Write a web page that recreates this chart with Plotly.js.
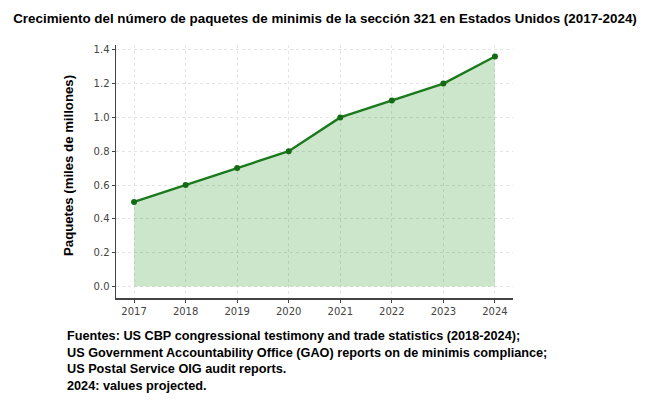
<!DOCTYPE html>
<html>
<head>
<meta charset="utf-8">
<script src="https://cdn.plot.ly/plotly-3.0.1.min.js"></script>
<style>html,body{margin:0;padding:0;background:#fff;}#chart{width:650px;height:404px;}</style>
</head>
<body>
<div id="chart"></div>
<script>
const years = [2017, 2018, 2019, 2020, 2021, 2022, 2023, 2024];
const packages = [0.5, 0.6, 0.7, 0.8, 1.0, 1.1, 1.2, 1.36];
const yTicks = [0.0, 0.2, 0.4, 0.6, 0.8, 1.0, 1.2, 1.4];
const yTickLabels = ["0.0", "0.2", "0.4", "0.6", "0.8", "1.0", "1.2", "1.4"];
const titleText = "Crecimiento del número de paquetes de minimis de la sección 321 en Estados Unidos (2017-2024)";
const yTitleText = "Paquetes (miles de millones)";
const sourceLines = [
  "Fuentes: US CBP congressional testimony and trade statistics (2018-2024);",
  "US Government Accountability Office (GAO) reports on de minimis compliance;",
  "US Postal Service OIG audit reports.",
  "2024: values projected."
];

const trace = {
  x: years,
  y: packages,
  type: "scatter",
  mode: "lines+markers",
  fill: "tozeroy",
  fillcolor: "rgba(0,128,0,0.2)",
  line: {color: "#1b7a1b", width: 2.4},
  marker: {color: "#136b13", size: 6},
  hoverinfo: "x+y"
};

const layout = {
  width: 650,
  height: 404,
  margin: {l: 116, r: 137, t: 45, b: 106},
  paper_bgcolor: "#ffffff",
  plot_bgcolor: "#ffffff",
  showlegend: false,
  title: {
    text: "<b>" + titleText + "</b>",
    x: 0.5, xanchor: "center",
    y: 1 - 18/404, yanchor: "middle",
    font: {family: "Liberation Sans, Arial, sans-serif", size: 13.4, color: "#000"}
  },
  xaxis: {
    range: [2016.65, 2024.35],
    tickmode: "array",
    tickvals: years,
    ticktext: years.map(String),
    showline: true, linecolor: "#444", linewidth: 1.5,
    ticks: "outside", ticklen: 3, tickcolor: "#444",
    showgrid: true, gridcolor: "#e4e4e4", griddash: "dot", gridwidth: 1,
    zeroline: false,
    tickfont: {family: "DejaVu Sans, sans-serif", size: 10, color: "#444"}
  },
  yaxis: {
    range: [-0.068, 1.428],
    tickmode: "array",
    tickvals: yTicks,
    ticktext: yTickLabels,
    showline: true, linecolor: "#444", linewidth: 1.5,
    ticks: "outside", ticklen: 3, tickcolor: "#444",
    showgrid: true, gridcolor: "#e4e4e4", griddash: "dot", gridwidth: 1,
    zeroline: false,
    tickfont: {family: "DejaVu Sans, sans-serif", size: 10, color: "#444"}
  },
  annotations: [
    {
      text: "<b>" + yTitleText + "</b>",
      xref: "paper", yref: "paper",
      x: (68 - 116) / 397, y: (298 - 166) / 253,
      xanchor: "center", yanchor: "middle",
      textangle: -90, showarrow: false,
      font: {family: "Liberation Sans, Arial, sans-serif", size: 13.2, color: "#000"}
    },
    {
      text: sourceLines.map(s => "<b>" + s + "</b>").join("<br>"),
      xref: "paper", yref: "paper",
      x: (65 - 116) / 397, y: (298 - 327) / 253,
      xanchor: "left", yanchor: "top", align: "left",
      showarrow: false,
      font: {family: "Liberation Sans, Arial, sans-serif", size: 12.7, color: "#000"}
    }
  ]
};

Plotly.newPlot("chart", [trace], layout, {displayModeBar: false, staticPlot: true});
</script>
</body>
</html>
